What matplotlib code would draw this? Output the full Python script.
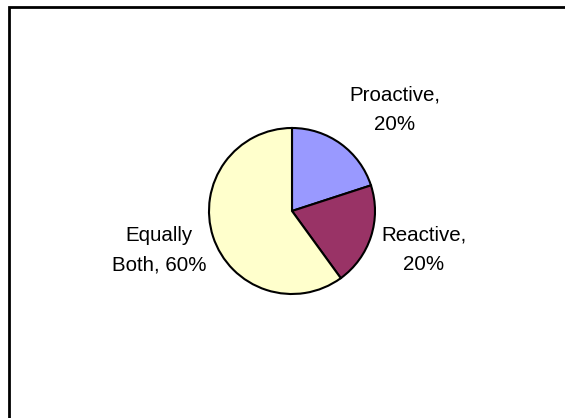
import matplotlib.pyplot as plt

categories = ["Proactive", "Reactive", "Equally\nBoth"]
shares = [20, 20, 60]
colors = ["#9999FF", "#993366", "#FFFFCC"]

W, H = 565, 418
fig = plt.figure(figsize=(W / 100, H / 100), dpi=100)
ax = fig.add_axes([0, 0, 1, 1])

# pie (pixel coordinates, y measured from bottom)
cx, cy, r = 292, H - 211, 83
ax.pie(shares, colors=colors, startangle=90, counterclock=False,
       center=(cx, cy), radius=r, frame=True,
       wedgeprops=dict(edgecolor="black", linewidth=1.5))
ax.set_xlim(0, W)
ax.set_ylim(0, H)
ax.set_aspect("equal")
ax.axis("off")

# label positions (centre of text block, offsets from pie centre)
label_pos = [(103, 101), (132, -39), (-133, -39)]
for name, val, (dx, dy) in zip(categories, shares, label_pos):
    if "\n" in name:
        txt = name + f", {val}%"
    else:
        txt = f"{name},\n{val}%"
    ax.text(cx + dx, cy + dy, txt, ha="center", va="center",
            fontsize=14.8, family="Liberation Sans", linespacing=1.7)

# chart-area border (only left and top edges visible)
ax.plot([9, 9, W], [0, H - 7, H - 7], color="black", linewidth=2.0,
        solid_joinstyle="miter")

fig.savefig("out.png", dpi=100)
